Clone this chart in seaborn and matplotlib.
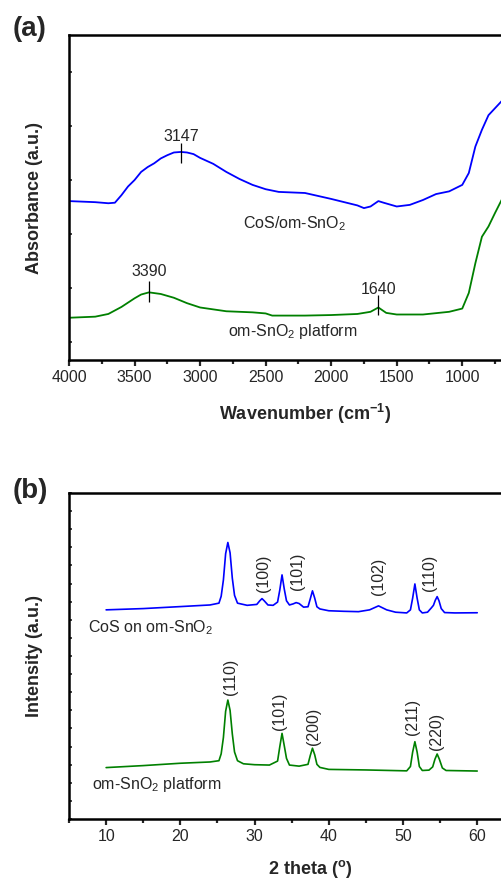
import numpy as np
import pandas as pd
import matplotlib
matplotlib.use("Agg")
import matplotlib.pyplot as plt
import seaborn as sns

# ---- (a) FTIR spectra ----
ftir_wn_cos = [4000, 3900, 3800, 3700, 3650, 3600, 3550, 3500, 3450, 3400, 3350, 3300,
               3250, 3200, 3147, 3100, 3050, 3000, 2900, 2800, 2700, 2600, 2500, 2400,
               2200, 2000, 1900, 1800, 1750, 1700, 1640, 1600, 1500, 1400, 1300, 1200,
               1100, 1000, 950, 900, 850, 800, 750, 700, 680]
ftir_abs_cos = [2.61, 2.60, 2.59, 2.57, 2.58, 2.72, 2.88, 3.00, 3.15, 3.24, 3.31, 3.40,
                3.46, 3.51, 3.52, 3.51, 3.48, 3.41, 3.30, 3.15, 3.02, 2.91, 2.83, 2.78,
                2.76, 2.65, 2.59, 2.53, 2.48, 2.51, 2.61, 2.58, 2.51, 2.54, 2.63, 2.74,
                2.79, 2.91, 3.13, 3.62, 3.93, 4.20, 4.33, 4.46, 4.52]

ftir_wn_sno2 = [4000, 3800, 3700, 3600, 3500, 3450, 3390, 3300, 3200, 3100, 3000, 2800,
                2600, 2500, 2450, 2200, 2000, 1800, 1700, 1640, 1580, 1500, 1300, 1100,
                1000, 950, 900, 850, 800, 750, 700, 680]
ftir_abs_sno2 = [0.45, 0.47, 0.52, 0.65, 0.81, 0.88, 0.92, 0.89, 0.82, 0.72, 0.64, 0.57,
                 0.55, 0.53, 0.49, 0.49, 0.50, 0.52, 0.56, 0.64, 0.54, 0.51, 0.51, 0.56,
                 0.62, 0.91, 1.46, 1.95, 2.14, 2.39, 2.63, 2.72]

ftir_peaks = [3147, 3390, 1640]
ftir_peak_lo = [3.32, 0.75, 0.50]
ftir_peak_hi = [3.69, 1.13, 0.87]
ftir_peak_text_y = [3.80, 1.30, 0.98]

# ---- (b) XRD patterns ----
xrd_2t_cos = [10, 15, 20, 24, 25.2, 25.5, 25.8, 26.1, 26.4, 26.7, 27.0, 27.3, 27.7, 29,
              30.3, 30.7, 31.0, 31.3, 31.8, 32.5, 33.1, 33.4, 33.7, 34.0, 34.3, 34.7,
              35.2, 35.6, 36.0, 36.6, 37.2, 37.5, 37.8, 38.1, 38.4, 38.8, 40, 42, 44,
              45.5, 46.7, 47.8, 49, 50.5, 51.0, 51.3, 51.6, 51.9, 52.2, 52.6, 53.3,
              53.8, 54.1, 54.35, 54.6, 54.85, 55.15, 55.6, 57, 60]
xrd_int_cos = [11.55, 11.62, 11.73, 11.82, 11.92, 12.3, 13.2, 14.65, 15.27, 14.7, 13.3,
               12.35, 11.92, 11.8, 11.85, 12.05, 12.17, 12.05, 11.82, 11.8, 11.98, 12.65,
               13.48, 12.7, 12.05, 11.82, 11.88, 11.95, 11.9, 11.7, 11.72, 12.15, 12.6,
               12.2, 11.72, 11.6, 11.5, 11.47, 11.45, 11.55, 11.77, 11.55, 11.42, 11.38,
               11.55, 12.2, 12.98, 12.2, 11.55, 11.38, 11.42, 11.65, 11.8, 12.08, 12.28,
               12.05, 11.62, 11.4, 11.38, 11.39]

xrd_2t_sno2 = [10, 15, 20, 24, 25.2, 25.5, 25.8, 26.1, 26.4, 26.7, 27.0, 27.3, 27.7, 28.5,
               30, 32, 33.1, 33.4, 33.7, 34.0, 34.3, 34.7, 36, 37.2, 37.5, 37.8, 38.1,
               38.4, 38.8, 40, 45, 50.5, 51.0, 51.3, 51.6, 51.9, 52.2, 52.6, 53.5, 54.0,
               54.3, 54.6, 54.9, 55.3, 55.8, 60]
xrd_int_sno2 = [2.84, 2.95, 3.08, 3.15, 3.22, 3.6, 4.5, 5.95, 6.57, 6.0, 4.7, 3.7, 3.22,
                3.05, 3.0, 2.98, 3.2, 4.0, 4.73, 4.05, 3.35, 2.98, 2.92, 3.02, 3.5, 3.91,
                3.55, 3.02, 2.85, 2.74, 2.71, 2.66, 2.9, 3.7, 4.27, 3.7, 2.9, 2.68, 2.7,
                2.88, 3.3, 3.59, 3.3, 2.82, 2.68, 2.65]

hkl_cos = ["(100)", "(101)", "(102)", "(110)"]
hkl_cos_x = [31.2, 35.8, 46.7, 53.6]
hkl_cos_y = [13.59, 13.66, 13.39, 13.58]
hkl_sno2 = ["(110)", "(101)", "(200)", "(211)", "(220)"]
hkl_sno2_x = [26.7, 33.4, 37.9, 51.3, 54.5]
hkl_sno2_y = [7.83, 5.93, 5.14, 5.62, 4.82]

BLUE = "#0000ff"
GREEN = "#008000"

sns.set_style("ticks")
plt.rcParams["font.family"] = ["Liberation Sans", "DejaVu Sans"]
plt.rcParams["mathtext.fontset"] = "custom"
plt.rcParams["mathtext.rm"] = "Liberation Sans"
plt.rcParams["mathtext.it"] = "Liberation Sans:italic"
plt.rcParams["mathtext.bf"] = "Liberation Sans:bold"

fig = plt.figure(figsize=(5.02, 8.82), dpi=100)
ax1 = fig.add_axes([0.1375, 0.5918, 0.940, 0.3685])
ax2 = fig.add_axes([0.1375, 0.0714, 0.961, 0.3696])


def style_axes(ax):
    for side in ["top", "right", "bottom", "left"]:
        ax.spines[side].set_linewidth(1.8)
        ax.spines[side].set_color("black")
    ax.tick_params(axis="x", which="major", direction="out", length=4, width=1.6,
                   labelsize=11.5, pad=3, top=False)
    ax.tick_params(axis="x", which="minor", direction="out", length=3, width=1.6, top=False)
    ax.tick_params(axis="y", which="both", direction="in", length=2, width=1.2,
                   labelleft=False, right=False)


# FTIR
df_a1 = pd.DataFrame({"wn": ftir_wn_cos, "a": ftir_abs_cos})
df_a2 = pd.DataFrame({"wn": ftir_wn_sno2, "a": ftir_abs_sno2})
sns.lineplot(data=df_a1, x="wn", y="a", ax=ax1, color=BLUE, lw=1.3, sort=False, estimator=None)
sns.lineplot(data=df_a2, x="wn", y="a", ax=ax1, color=GREEN, lw=1.3, sort=False, estimator=None)
ax1.set_xlim(4000, 400)
ax1.set_ylim(-0.333, 5.685)
ax1.set_xticks([4000, 3500, 3000, 2500, 2000, 1500, 1000])
ax1.set_xticks(np.arange(3750, 400, -500), minor=True)
ax1.set_yticks(range(0, 6))
style_axes(ax1)
ax1.vlines(ftir_peaks, ftir_peak_lo, ftir_peak_hi, color="black", lw=0.9)
for p, ty in zip(ftir_peaks, ftir_peak_text_y):
    ax1.text(p, ty, str(p), ha="center", va="center", fontsize=11.5)
ax1.text(2672, 2.19, "CoS/om-SnO$_2$", ha="left", va="center", fontsize=11.5)
ax1.text(2786, 0.19, "om-SnO$_2$ platform", ha="left", va="center", fontsize=11.5)
ax1.set_xlabel("Wavenumber (cm$^{\\mathbf{-1}}$)", fontsize=13, fontweight="bold", labelpad=12)
ax1.set_ylabel("Absorbance (a.u.)", fontsize=13, fontweight="bold", labelpad=19)
fig.text(0.026, 0.967, "(a)", fontsize=20, fontweight="bold", ha="left", va="center")

# XRD
df_b1 = pd.DataFrame({"tt": xrd_2t_cos, "i": xrd_int_cos})
df_b2 = pd.DataFrame({"tt": xrd_2t_sno2, "i": xrd_int_sno2})
sns.lineplot(data=df_b1, x="tt", y="i", ax=ax2, color=BLUE, lw=1.2, sort=False, estimator=None)
sns.lineplot(data=df_b2, x="tt", y="i", ax=ax2, color=GREEN, lw=1.2, sort=False, estimator=None)
ax2.set_xlim(5, 70)
ax2.set_ylim(0, 18)
ax2.set_xticks(range(10, 61, 10))
ax2.set_xticks(range(5, 71, 10), minor=True)
ax2.set_yticks(range(0, 19))
style_axes(ax2)
for lab, x, y in zip(hkl_cos, hkl_cos_x, hkl_cos_y):
    ax2.text(x, y, lab, rotation=90, ha="center", va="center", fontsize=11.5)
for lab, x, y in zip(hkl_sno2, hkl_sno2_x, hkl_sno2_y):
    ax2.text(x, y, lab, rotation=90, ha="center", va="center", fontsize=11.5)
ax2.text(7.6, 10.56, "CoS on om-SnO$_2$", ha="left", va="center", fontsize=11.5)
ax2.text(8.05, 1.88, "om-SnO$_2$ platform", ha="left", va="center", fontsize=11.5)
ax2.set_xlabel("2 theta ($^{\\mathbf{o}}$)", fontsize=13, fontweight="bold", labelpad=10)
ax2.set_ylabel("Intensity (a.u.)", fontsize=13, fontweight="bold", labelpad=19)
fig.text(0.026, 0.443, "(b)", fontsize=20, fontweight="bold", ha="left", va="center")

fig.savefig("out.png", dpi=100)
